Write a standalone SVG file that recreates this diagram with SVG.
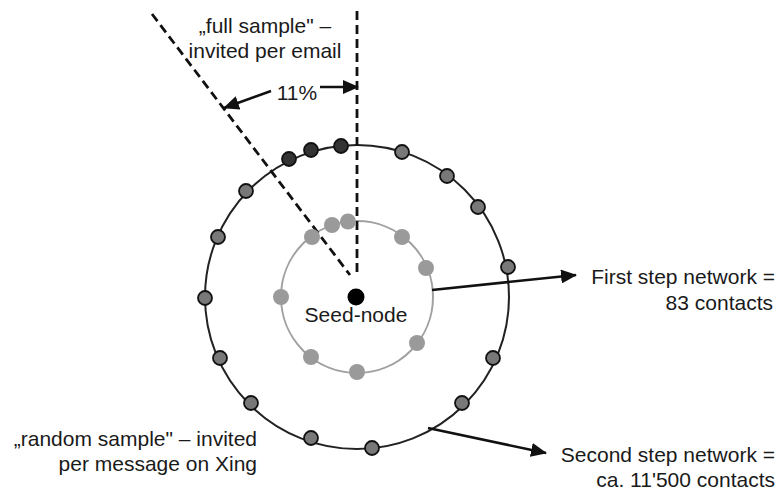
<svg xmlns="http://www.w3.org/2000/svg" width="777" height="491" viewBox="0 0 777 491">
<style>
text{font-family:"Liberation Sans",Arial,sans-serif;font-size:21px;fill:#1a1a1a}
.dash{stroke:#111;stroke-width:2.8;stroke-dasharray:9 5;fill:none}
.arr{stroke:#111;stroke-width:2.5;fill:none;marker-end:url(#ah)}
.outer{fill:#787878;stroke:#111;stroke-width:1.8}
.dark{fill:#333;stroke:#111;stroke-width:1.8}
.inner{fill:#9a9a9a;stroke:none;filter:url(#soft)}
</style>
<defs>
<marker id="ah" markerWidth="16" markerHeight="14" refX="15" refY="7" orient="auto" markerUnits="userSpaceOnUse">
<path d="M0,0 L16,7 L0,14 Z" fill="#111"/>
</marker>
<filter id="soft" x="-50%" y="-50%" width="200%" height="200%"><feGaussianBlur stdDeviation="0.7"/></filter>
</defs>
<rect width="777" height="491" fill="#fff"/>
<g id="rings">
<circle cx="357" cy="297" r="152" fill="none" stroke="#222" stroke-width="2"/>
<circle cx="357" cy="297" r="76" fill="none" stroke="#a0a0a0" stroke-width="2"/>
</g>
<g id="connectors">
<line class="dash" x1="357" y1="11" x2="357" y2="272"/>
<line class="dash" x1="152" y1="14" x2="350" y2="275"/>
<line class="arr" x1="271" y1="91" x2="224" y2="108"/>
<line class="arr" x1="320" y1="87" x2="358" y2="87"/>
<line class="arr" x1="432" y1="290" x2="576" y2="275"/>
<line class="arr" x1="428" y1="428" x2="546" y2="453"/>
</g>
<g id="inner-nodes">
<circle class="inner" cx="312" cy="237" r="8"/>
<circle class="inner" cx="332" cy="225" r="8"/>
<circle class="inner" cx="348" cy="221.5" r="8"/>
<circle class="inner" cx="402" cy="237" r="8"/>
<circle class="inner" cx="426" cy="268" r="8"/>
<circle class="inner" cx="281" cy="297" r="8"/>
<circle class="inner" cx="417" cy="343" r="8"/>
<circle class="inner" cx="311" cy="357" r="8"/>
<circle class="inner" cx="357" cy="372" r="8"/>
</g>
<g id="outer-nodes">
<circle class="dark" cx="289" cy="159" r="7"/>
<circle class="dark" cx="311" cy="150" r="7"/>
<circle class="dark" cx="341" cy="146" r="7"/>
<circle class="outer" cx="402" cy="152" r="7"/>
<circle class="outer" cx="447" cy="176" r="7"/>
<circle class="outer" cx="478" cy="207" r="7"/>
<circle class="outer" cx="508" cy="267" r="7"/>
<circle class="outer" cx="493" cy="358" r="7"/>
<circle class="outer" cx="462" cy="403" r="7"/>
<circle class="outer" cx="372" cy="448" r="7"/>
<circle class="outer" cx="311" cy="438" r="7"/>
<circle class="outer" cx="251" cy="403" r="7"/>
<circle class="outer" cx="220" cy="358" r="7"/>
<circle class="outer" cx="205" cy="298" r="7"/>
<circle class="outer" cx="218" cy="237" r="7"/>
<circle class="outer" cx="246" cy="191" r="7"/>
</g>
<g id="seed-node">
<circle cx="356" cy="297" r="8.5" fill="#000"/>
<text x="356" y="322" text-anchor="middle">Seed-node</text>
</g>
<g id="labels">
<text x="265" y="33" text-anchor="middle">„full sample" –</text>
<text x="265" y="58" text-anchor="middle">invited per email</text>
<text x="297" y="100" text-anchor="middle">11%</text>
<text x="775" y="284" text-anchor="end">First step network =</text>
<text x="773" y="310" text-anchor="end">83 contacts</text>
<text x="775" y="462" text-anchor="end">Second step network =</text>
<text x="775" y="487" text-anchor="end">ca. 11'500 contacts</text>
<text x="257" y="446" text-anchor="end">„random sample" – invited</text>
<text x="257" y="471" text-anchor="end">per message on Xing</text>
</g>
</svg>
